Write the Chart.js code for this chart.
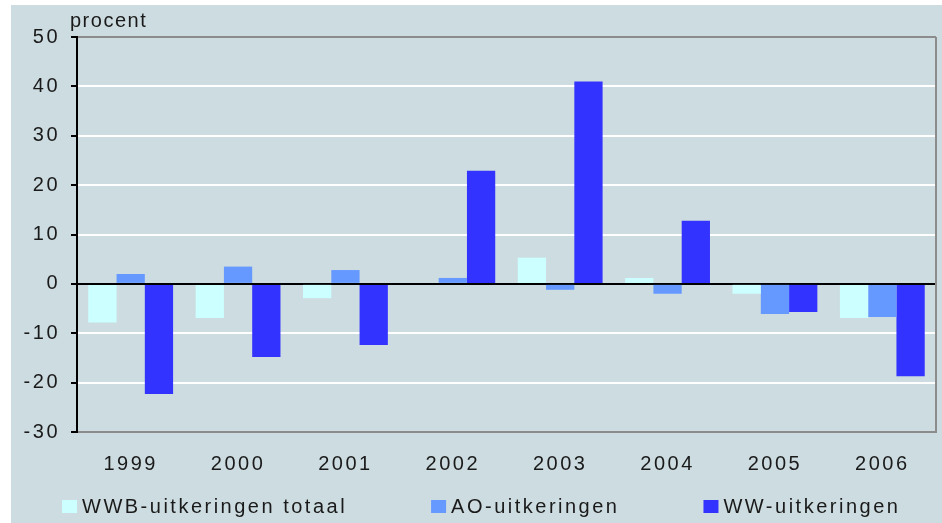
<!DOCTYPE html>
<html>
<head>
<meta charset="utf-8">
<script src="https://cdn.jsdelivr.net/npm/chart.js@4"></script>
<style>
  body { margin: 0; background: #fff; }
  #wrap { width: 942px; height: 523px; }
</style>
</head>
<body>
<div id="wrap"><canvas id="uitkeringenChart" width="942" height="523"></canvas></div>
<script>
var jaren = ['1999', '2000', '2001', '2002', '2003', '2004', '2005', '2006'];
var wwb = [-7.8, -6.9, -2.9, 0.0, 5.3, 1.2, -2.0, -6.9];
var ao = [2.0, 3.5, 2.8, 1.2, -1.2, -2.0, -6.1, -6.7];
var ww = [-22.3, -14.8, -12.4, 22.9, 41.0, 12.8, -5.7, -18.7];
var labels = ['WWB-uitkeringen totaal', 'AO-uitkeringen', 'WW-uitkeringen'];
var kleuren = ['#ccffff', '#6699ff', '#3333ff'];
var yAs = { min: -30, max: 50, stap: 10, titel: 'procent' };

var fontFam = "'Liberation Sans', Arial, sans-serif";
var spatie = '2.5px';

Chart.defaults.font.family = fontFam;
Chart.defaults.font.size = 20;
Chart.defaults.color = '#1a1a1a';

// achtergrond, rand rechts, "procent" en de legenda
var opmaak = {
    id: 'opmaak',
    beforeUpdate: function(chart) { chart.ctx.letterSpacing = spatie; },
    beforeLayout: function(chart) { chart.ctx.letterSpacing = spatie; },
    beforeDraw: function(chart) {
        var ctx = chart.ctx;
        ctx.save();
        ctx.fillStyle = '#cddce0';
        ctx.fillRect(11, 5, chart.width - 11, chart.height - 5);
        ctx.restore();
        ctx.letterSpacing = spatie;
    },
    afterDraw: function(chart) {
        var ctx = chart.ctx;
        var a = chart.chartArea;
        ctx.save();
        ctx.strokeStyle = '#8c8c8c';
        ctx.lineWidth = 2;
        ctx.beginPath();
        ctx.moveTo(a.right, a.top);
        ctx.lineTo(a.right, a.bottom);
        ctx.stroke();

        ctx.font = '20px ' + fontFam;
        ctx.fillStyle = '#1a1a1a';
        ctx.letterSpacing = '1.5px';
        ctx.textBaseline = 'alphabetic';
        ctx.textAlign = 'left';
        ctx.fillText(yAs.titel, 70, 27);

        // legenda
        ctx.letterSpacing = spatie;
        ctx.textBaseline = 'middle';
        var x = 62;
        chart.data.datasets.forEach(function(ds) {
            ctx.fillStyle = ds.backgroundColor;
            ctx.fillRect(x, 500, 15, 13);
            ctx.fillStyle = '#1a1a1a';
            ctx.fillText(ds.label, x + 20, 507);
            x += 20 + ctx.measureText(ds.label).width + 84;
        });
        ctx.restore();
    }
};

var ctx = document.getElementById('uitkeringenChart').getContext('2d');
var myBarChart = new Chart(ctx, {
    type: 'bar',
    data: {
        labels: jaren,
        datasets: [
            { label: labels[0], data: wwb, backgroundColor: kleuren[0] },
            { label: labels[1], data: ao, backgroundColor: kleuren[1] },
            { label: labels[2], data: ww, backgroundColor: kleuren[2] }
        ]
    },
    options: {
        responsive: false,
        animation: false,
        categoryPercentage: 0.79,
        barPercentage: 1.0,
        layout: { padding: { left: 0, right: 6, top: 37, bottom: 0 } },
        plugins: {
            legend: { display: false },
            tooltip: { enabled: false }
        },
        scales: {
            x: {
                grid: { display: false, drawTicks: false },
                border: { display: true, color: '#8c8c8c', width: 2 },
                ticks: { padding: 20, font: { size: 20 }, color: '#1a1a1a' },
                afterFit: function(scale) { scale.height = 91; }
            },
            y: {
                min: yAs.min,
                max: yAs.max,
                ticks: { stepSize: yAs.stap, padding: 11, font: { size: 20 }, color: '#1a1a1a' },
                grid: {
                    lineWidth: 2,
                    tickLength: 6,
                    tickColor: '#000',
                    color: function(c) {
                        var v = c.tick ? c.tick.value : null;
                        if (v === 0) return '#000';
                        if (v === yAs.min || v === yAs.max) return '#8c8c8c';
                        return '#ffffff';
                    }
                },
                border: { display: true, color: '#000', width: 2 },
                afterFit: function(scale) { scale.width = 77; }
            }
        }
    },
    plugins: [opmaak]
});
</script>
</body>
</html>
